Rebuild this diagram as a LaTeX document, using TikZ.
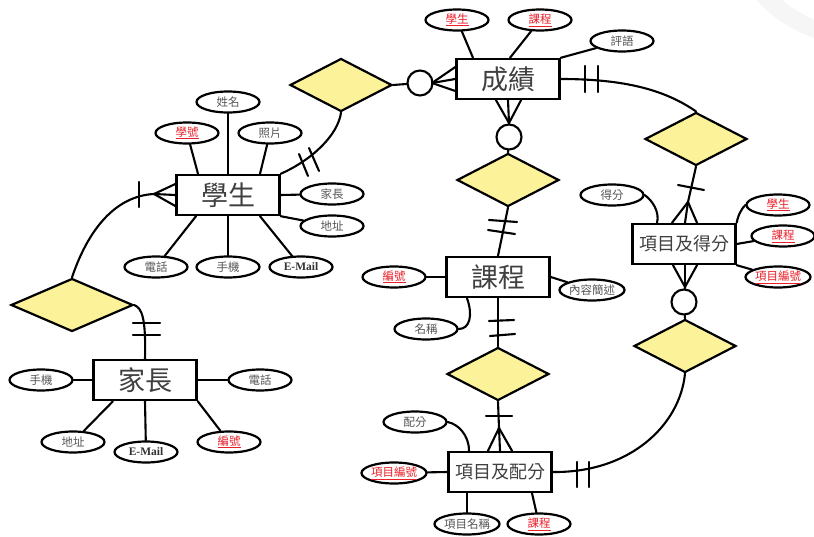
\documentclass[tikz,border=0pt]{standalone}
\usepackage{fontspec}
\setmainfont{Noto Sans CJK TC}
\newfontfamily\latinbold{Liberation Serif}[BoldFont={Liberation Serif Bold}]
\usetikzlibrary{shapes.geometric}
\definecolor{relfill}{HTML}{FBF29A}
\definecolor{attrgray}{HTML}{555555}
\definecolor{keyred}{HTML}{E8202A}
\definecolor{faintband}{HTML}{F6F6F6}
\tikzset{
  link/.style={line width=2.1pt,black,line cap=round},
  entity/.style={draw=black,line width=2.4pt,fill=white,rectangle,minimum width=103pt,minimum height=40pt,inner sep=0pt,text=black!75,font=\fontsize{27}{29}\selectfont},
  entitysmall/.style={entity,font=\fontsize{18}{20}\selectfont},
  relation/.style={draw=black,line width=2.2pt,fill=relfill,diamond,aspect=1.93,inner sep=0pt,minimum width=102pt,minimum height=53pt},
  attr/.style={draw=black,line width=2.2pt,fill=white,ellipse,minimum width=63pt,minimum height=21pt,inner sep=0pt,text=attrgray,font=\fontsize{11.5}{12}\selectfont},
  keyattr/.style={attr,text=keyred},
  mailattr/.style={attr,text=black!80,font=\latinbold\bfseries\fontsize{11.5}{12}\selectfont},
  ring/.style={draw=black,line width=2.1pt,fill=white,circle,minimum size=25pt,inner sep=0pt},
}
\newcommand{\ku}[1]{\underline{#1}}
\begin{document}
\begin{tikzpicture}[x=1pt,y=-1pt]
\useasboundingbox (0,0) rectangle (814,537);
\fill[faintband] (757,0) .. controls (772,18) and (792,30) .. (814,38) -- (814,20) .. controls (802,14) and (790,7) .. (782,0) -- cycle;
% --- entities
\node[entity] (stu) at (228,195) {學生};
\node[entity] (par) at (145,380) {家長};
\node[entity] (gra) at (508,79) {成績};
\node[entity] (cou) at (498,277) {課程};
\node[entitysmall] (itd) at (500,472) {項目及配分};
\node[entitysmall] (its) at (684,244) {項目及得分};
% --- relationships
\node[relation] (r1) at (341,85) {};
\node[relation] (r2) at (508,180) {};
\node[relation] (r3) at (696,139) {};
\node[relation] (r4) at (685,346) {};
\node[relation] (r5) at (498,374) {};
\node[relation,minimum width=122pt] (r6) at (72,305) {};
% --- circles
\node[ring] (c1) at (420,83) {};
\node[ring] (c2) at (509,137) {};
\node[ring] (c3) at (684,302) {};
% --- attributes of student
\node[attr] (a1) at (228,102) {姓名};
\node[keyattr] (a2) at (187,133) {\ku{學號}};
\node[attr] (a3) at (270,133) {照片};
\node[attr] (a4) at (332,194) {家長};
\node[attr] (a5) at (332,226) {地址};
\node[attr] (a6) at (156,267) {電話};
\node[attr] (a7) at (228,267) {手機};
\node[mailattr] (a8) at (301,267) {E-Mail};
% --- attributes of parent
\node[attr] (b1) at (41,380) {手機};
\node[attr] (b2) at (260,380) {電話};
\node[attr] (b3) at (73,442) {地址};
\node[mailattr] (b4) at (146,452) {E-Mail};
\node[keyattr] (b5) at (229,442) {\ku{編號}};
% --- attributes of grade
\node[keyattr] (g1) at (457,20) {\ku{學生}};
\node[keyattr] (g2) at (540,20) {\ku{課程}};
\node[attr] (g3) at (622,41) {評語};
% --- attributes of item score
\node[attr] (s1) at (612,195) {得分};
\node[keyattr] (s2) at (778,205) {\ku{學生}};
\node[keyattr] (s3) at (783,236) {\ku{課程}};
\node[keyattr] (s4) at (778,277) {\ku{項目編號}};
% --- attributes of course
\node[keyattr] (k1) at (394,277) {\ku{編號}};
\node[attr] (k2) at (426,329) {名稱};
\node[attr] (k3) at (592,290) {內容簡述};
% --- attributes of item distribution
\node[attr] (d1) at (415,422) {配分};
\node[keyattr] (d2) at (394,473) {\ku{項目編號}};
\node[attr] (d3) at (467,524) {項目名稱};
\node[keyattr] (d4) at (539,524) {\ku{課程}};
% --- free points of crow's feet
\coordinate (apexA) at (154,194);
\coordinate (apexB) at (432,83);
\coordinate (apexC) at (509,123);
\coordinate (apexD) at (688,202);
\coordinate (apexE) at (685,287);
\coordinate (apexF) at (499,428);
% --- attribute links
\draw[link] (a1) -- (stu.north);
\draw[link] (a2) -- ([xshift=-30pt]stu.north);
\draw[link] (a3) -- ([xshift=32pt]stu.north);
\draw[link] (a4) -- (stu.east);
\draw[link] (a5) -- (stu.south east);
\draw[link] (a6) -- ([xshift=-32pt]stu.south);
\draw[link] (a7) -- (stu.south);
\draw[link] (a8) -- ([xshift=32pt]stu.south);
\draw[link] (b1) -- (par.west);
\draw[link] (b2) -- (par.east);
\draw[link] (b3) -- ([xshift=-32pt]par.south);
\draw[link] (b4) -- (par.south);
\draw[link] (b5) -- (par.south east);
\draw[link] (g1) -- ([xshift=-35pt]gra.north);
\draw[link] (g2) -- ([xshift=2pt]gra.north);
\draw[link] (g3) -- (gra.north east);
\draw[link] (s1.east) .. controls (652,200) and (660,212) .. ([xshift=-27pt]its.north);
\draw[link] (s2.west) .. controls (742,208) and (738,215) .. (its.north east);
\draw[link] (s3) -- (its.east);
\draw[link] (s4) -- (its.south east);
\draw[link] (k1) -- (cou.west);
\draw[link] (k2.east) .. controls (470,329) and (473,315) .. ([xshift=-31pt]cou.south);
\draw[link] (k3) -- (cou.east);
\draw[link] (d1.east) .. controls (458,424) and (469,435) .. ([xshift=-31pt]itd.north);
\draw[link] (d2) -- (itd.west);
\draw[link] (d3) -- ([xshift=-33pt]itd.south);
\draw[link] (d4) -- ([xshift=32pt]itd.south);
% --- relationship links
\draw[link] (r1.south) .. controls (338,135) and (312,160) .. (stu.north east);
\draw[link] (299,154) -- (308,176);
\draw[link] (309,148) -- (319,171);
\draw[link] (r6.north) .. controls (88,230) and (115,196) .. (apexA);
\draw[link] (139,182) -- (139,207);
\draw[link] (apexA) -- ([yshift=11pt]stu.west);
\draw[link] (apexA) -- (stu.west);
\draw[link] (apexA) -- ([yshift=-11pt]stu.west);
\draw[link] (r6.east) .. controls (142,308) and (146,318) .. (par.north);
\draw[link] (133,323) -- (160,323);
\draw[link] (133,335) -- (160,335);
\draw[link] (r1.east) -- (c1);
\draw[link] (c1) -- (apexB);
\draw[link] (apexB) -- ([yshift=12pt]gra.west);
\draw[link] (apexB) -- (gra.west);
\draw[link] (apexB) -- ([yshift=-12pt]gra.west);
\draw[link] (c2) -- (apexC);
\draw[link] (apexC) -- ([xshift=-12pt]gra.south);
\draw[link] (apexC) -- (gra.south);
\draw[link] (apexC) -- ([xshift=13pt]gra.south);
\draw[link] (c2) -- (r2.north);
\draw[link] (gra.east) .. controls (625,79) and (665,90) .. (r3.north);
\draw[link] (585,66) -- (585,92);
\draw[link] (598,66) -- (598,92);
\draw[link] (r2.south) -- (cou.north);
\draw[link] (489,220) -- (517,222);
\draw[link] (488,230) -- (515,234);
\draw[link] (r3.south) -- (apexD);
\draw[link] (678,185) -- (704,190);
\draw[link] (apexD) -- ([xshift=-12pt]its.north);
\draw[link] (apexD) -- ([xshift=1pt]its.north);
\draw[link] (apexD) -- ([xshift=13pt]its.north);
\draw[link] (apexE) -- ([xshift=-11pt]its.south);
\draw[link] (apexE) -- ([xshift=1pt]its.south);
\draw[link] (apexE) -- ([xshift=13pt]its.south);
\draw[link] (c3) -- (apexE);
\draw[link] (c3) -- (r4.north);
\draw[link] (cou.south) -- (r5.north);
\draw[link] (489,321) -- (514,320);
\draw[link] (490,336) -- (515,334);
\draw[link] (r5.south) -- (apexF);
\draw[link] (486,416) -- (512,416);
\draw[link] (apexF) -- ([xshift=-12pt]itd.north);
\draw[link] (apexF) -- (itd.north);
\draw[link] (apexF) -- ([xshift=12pt]itd.north);
\draw[link] (r4.south) .. controls (680,425) and (630,473) .. (itd.east);
\draw[link] (577,462) -- (577,487);
\draw[link] (589,462) -- (589,487);
\end{tikzpicture}
\end{document}
